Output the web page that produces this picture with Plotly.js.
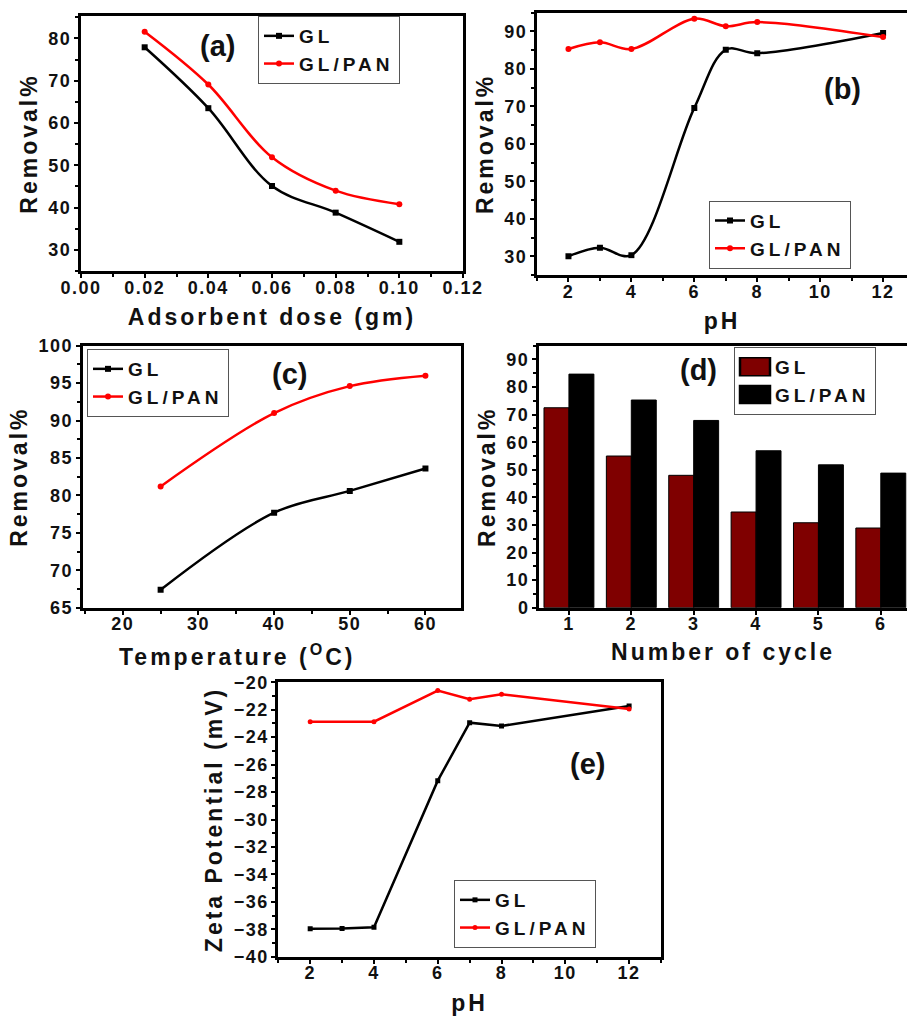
<!DOCTYPE html>
<html>
<head>
<meta charset="utf-8">
<script src="https://cdn.plot.ly/plotly-3.0.1.min.js"></script>
<style>
  body { margin: 0; background: #fff; }
  #chart { width: 907px; height: 1021px; }
  #chart text { font-weight: bold !important; }
  text.xtitle, text.x2title, text.x3title, text.x4title, text.x5title,
  text.ytitle, text.y2title, text.y3title, text.y4title, text.y5title { letter-spacing: 3px; }
  g.xtick > text, g.x2tick > text, g.x3tick > text, g.x4tick > text, g.x5tick > text,
  g.ytick > text, g.y2tick > text, g.y3tick > text, g.y4tick > text, g.y5tick > text { letter-spacing: 1.5px; }
  g.legend text, g.legend2 text, g.legend3 text, g.legend4 text, g.legend5 text,
  #js-plotly-tester text[class*="legend"] { letter-spacing: 4px; font-weight: bold !important; }
</style>
</head>
<body>
<div id="chart"></div>
<script>
// ---- data (a) adsorbent dose ----
const doseX = [0.02, 0.04, 0.06, 0.08, 0.10];
const doseGL = [77.9, 63.5, 45.1, 38.8, 31.9];
const dosePAN = [81.6, 69.1, 51.9, 44.0, 40.8];
// ---- data (b) pH ----
const phX = [2, 3, 4, 6, 7, 8, 12];
const phGL = [30.0, 32.3, 30.3, 69.6, 85.1, 84.2, 89.6];
const phPAN = [85.3, 87.1, 85.3, 93.4, 91.4, 92.5, 88.5];
// ---- data (c) temperature ----
const tempX = [25, 40, 50, 60];
const tempGL = [67.4, 77.7, 80.6, 83.6];
const tempPAN = [81.2, 91.0, 94.6, 96.0];
// ---- data (d) cycles ----
const cycles = [1, 2, 3, 4, 5, 6];
const cycleGL = [72.5, 55.0, 48.0, 34.7, 30.8, 28.9];
const cyclePAN = [84.7, 75.3, 67.9, 56.9, 51.8, 48.8];
// ---- data (e) zeta potential ----
const zetaXGL = [2, 3, 4, 6, 7, 8, 12];
const zetaGL = [-37.96, -37.95, -37.86, -27.17, -22.94, -23.18, -21.73];
const zetaXPAN = [2, 4, 6, 7, 8, 12];
const zetaPAN = [-22.87, -22.87, -20.6, -21.24, -20.87, -21.94];

const seriesNames = ['GL', 'GL/PAN'];
const panelLabels = ['(a)', '(b)', '(c)', '(d)', '(e)'];

const W = 907, H = 1021;
const px = v => v / W;
const py = v => 1 - v / H;

const FONT = 'Arial, Liberation Sans, sans-serif';
const tickFont = { family: FONT, size: 18, color: '#111', weight: 'bold' };
const titleFont = { family: FONT, size: 23, color: '#111', weight: 'bold' };

function axis(domain, range, dtick, minor, extra) {
  return Object.assign({
    domain: domain, range: range, dtick: dtick, tick0: 0,
    showline: true, linewidth: 3, linecolor: '#000', mirror: true,
    ticks: 'outside', ticklen: 4, tickwidth: 2, tickcolor: '#000',
    showgrid: false, zeroline: false, tickfont: tickFont,
    minor: { dtick: minor, tick0: 0, ticks: 'outside', ticklen: 3, tickwidth: 2, tickcolor: '#000', showgrid: false },
    fixedrange: true
  }, extra || {});
}
const xExtra = (o) => Object.assign({ ticklabelstandoff: -6 }, o);
const yExtra = (o) => Object.assign({ ticklabelstandoff: -1 }, o);

const lineGL = { color: '#000', width: 2.5, shape: 'spline' };
const linePAN = { color: '#ff0000', width: 2.5, shape: 'spline' };
const mkGL = { symbol: 'square', size: 6, color: '#000' };
const mkPAN = { symbol: 'circle', size: 6, color: '#ff0000' };

const traces = [
  { x: doseX, y: doseGL, name: seriesNames[0], mode: 'lines+markers', line: lineGL, marker: mkGL, xaxis: 'x', yaxis: 'y', legend: 'legend' },
  { x: doseX, y: dosePAN, name: seriesNames[1], mode: 'lines+markers', line: linePAN, marker: mkPAN, xaxis: 'x', yaxis: 'y', legend: 'legend' },
  { x: phX, y: phGL, name: seriesNames[0], mode: 'lines+markers', line: lineGL, marker: mkGL, xaxis: 'x2', yaxis: 'y2', legend: 'legend2' },
  { x: phX, y: phPAN, name: seriesNames[1], mode: 'lines+markers', line: linePAN, marker: mkPAN, xaxis: 'x2', yaxis: 'y2', legend: 'legend2' },
  { x: tempX, y: tempGL, name: seriesNames[0], mode: 'lines+markers', line: lineGL, marker: mkGL, xaxis: 'x3', yaxis: 'y3', legend: 'legend3' },
  { x: tempX, y: tempPAN, name: seriesNames[1], mode: 'lines+markers', line: linePAN, marker: mkPAN, xaxis: 'x3', yaxis: 'y3', legend: 'legend3' },
  { x: cycles, y: cycleGL, name: seriesNames[0], type: 'bar', marker: { color: '#7f0000', line: { color: '#000', width: 1 } }, xaxis: 'x4', yaxis: 'y4', legend: 'legend4' },
  { x: cycles, y: cyclePAN, name: seriesNames[1], type: 'bar', marker: { color: '#000', line: { color: '#000', width: 1 } }, xaxis: 'x4', yaxis: 'y4', legend: 'legend4' },
  { x: zetaXGL, y: zetaGL, name: seriesNames[0], mode: 'lines+markers', line: { color: '#000', width: 2.5 }, marker: { symbol: 'square', size: 5, color: '#000' }, xaxis: 'x5', yaxis: 'y5', legend: 'legend5' },
  { x: zetaXPAN, y: zetaPAN, name: seriesNames[1], mode: 'lines+markers', line: { color: '#ff0000', width: 2.5 }, marker: { symbol: 'circle', size: 5, color: '#ff0000' }, xaxis: 'x5', yaxis: 'y5', legend: 'legend5' }
];

function legendAt(x, y) {
  return {
    x: x, y: y, xanchor: 'left', yanchor: 'top', xref: 'paper', yref: 'paper',
    bgcolor: '#fff', bordercolor: '#555', borderwidth: 1,
    font: { family: FONT, size: 19, color: '#111', weight: 'bold' },
    tracegroupgap: 0, itemclick: false, itemdoubleclick: false
  };
}

function panelLabel(text, x, y) {
  return { text: text, x: px(x), y: py(y), xref: 'paper', yref: 'paper', showarrow: false,
    xanchor: 'center', yanchor: 'middle', font: { family: FONT, size: 29, color: '#111', weight: 'bold' } };
}

const layout = {
  width: W, height: H,
  margin: { l: 0, r: 0, t: 0, b: 0 },
  paper_bgcolor: '#fff', plot_bgcolor: '#fff',
  showlegend: true,
  barmode: 'group', bargap: 0.2, bargroupgap: 0,
  xaxis: axis([px(81), px(463)], [0, 0.12], 0.02, 0.01, xExtra({ tickformat: '.2f', anchor: 'y',
    title: { text: 'Adsorbent dose (gm)', font: titleFont, standoff: 13 } })),
  yaxis: axis([py(271), py(16)], [25, 85.3], 10, 5, yExtra({ anchor: 'x',
    title: { text: 'Removal%', font: titleFont, standoff: 5 } })),
  xaxis2: axis([px(537), 1], [1, 12.76], 2, 1, xExtra({ anchor: 'y2',
    title: { text: 'pH', font: titleFont, standoff: 13 } })),
  yaxis2: axis([py(275), py(12.7)], [25, 95], 10, 5, yExtra({ anchor: 'x2', mirror: false,
    title: { text: 'Removal%', font: titleFont, standoff: 5 } })),
  xaxis3: axis([px(82.7), px(461)], [14.7, 64.7], 10, 5, xExtra({ anchor: 'y3' })),
  yaxis3: axis([py(607.7), py(345.7)], [65, 100], 5, 2.5, yExtra({ anchor: 'x3',
    title: { text: 'Removal%', font: titleFont, standoff: 5 } })),
  xaxis4: axis([px(539), 1], [0.52, 6.42], 1, 1, xExtra({ anchor: 'y4',
    title: { text: 'Number of cycle', font: titleFont, standoff: 11 } })),
  yaxis4: axis([py(607.7), py(345.7)], [0, 95], 10, 5, yExtra({ anchor: 'x4', mirror: false,
    title: { text: 'Removal%', font: titleFont, standoff: 5 } })),
  xaxis5: axis([px(278.3), px(661)], [1, 13], 2, 1, xExtra({ anchor: 'y5',
    title: { text: 'pH', font: titleFont, standoff: 13 } })),
  yaxis5: axis([py(956.7), py(682.3)], [-40, -20], 2, 1, yExtra({ anchor: 'x5',
    title: { text: 'Zeta Potential (mV)', font: titleFont, standoff: 5 } })),
  legend: legendAt(px(258), py(16)),
  legend2: legendAt(px(709), py(200.7)),
  legend3: legendAt(px(87), py(349)),
  legend4: legendAt(px(734), py(347)),
  legend5: legendAt(px(454), py(880)),
  annotations: [
    panelLabel(panelLabels[0], 217, 46),
    panelLabel(panelLabels[1], 842, 89),
    panelLabel(panelLabels[2], 289, 374),
    panelLabel(panelLabels[3], 698, 370),
    panelLabel(panelLabels[4], 587, 764),
    { text: 'Temperature (<sup>O</sup>C)', x: px(237), y: py(655), xref: 'paper', yref: 'paper',
      showarrow: false, xanchor: 'center', yanchor: 'middle', font: titleFont }
  ]
};

function finishStyles() {
  const root = document.getElementById('chart');
  root.querySelectorAll('.annotation-text').forEach(function (t) {
    if (t.textContent.indexOf('Temperature') === 0) t.style.letterSpacing = '3px';
  });
  // larger filled rectangles as the bar legend keys of panel (d)
  root.querySelectorAll('g.legend4 .legendpoints path').forEach(function (p) {
    p.setAttribute('transform', 'translate(20,0) scale(2.5,1.5)');
  });
}

Plotly.newPlot('chart', traces, layout, { displayModeBar: false, staticPlot: true }).then(finishStyles);
</script>
</body>
</html>
